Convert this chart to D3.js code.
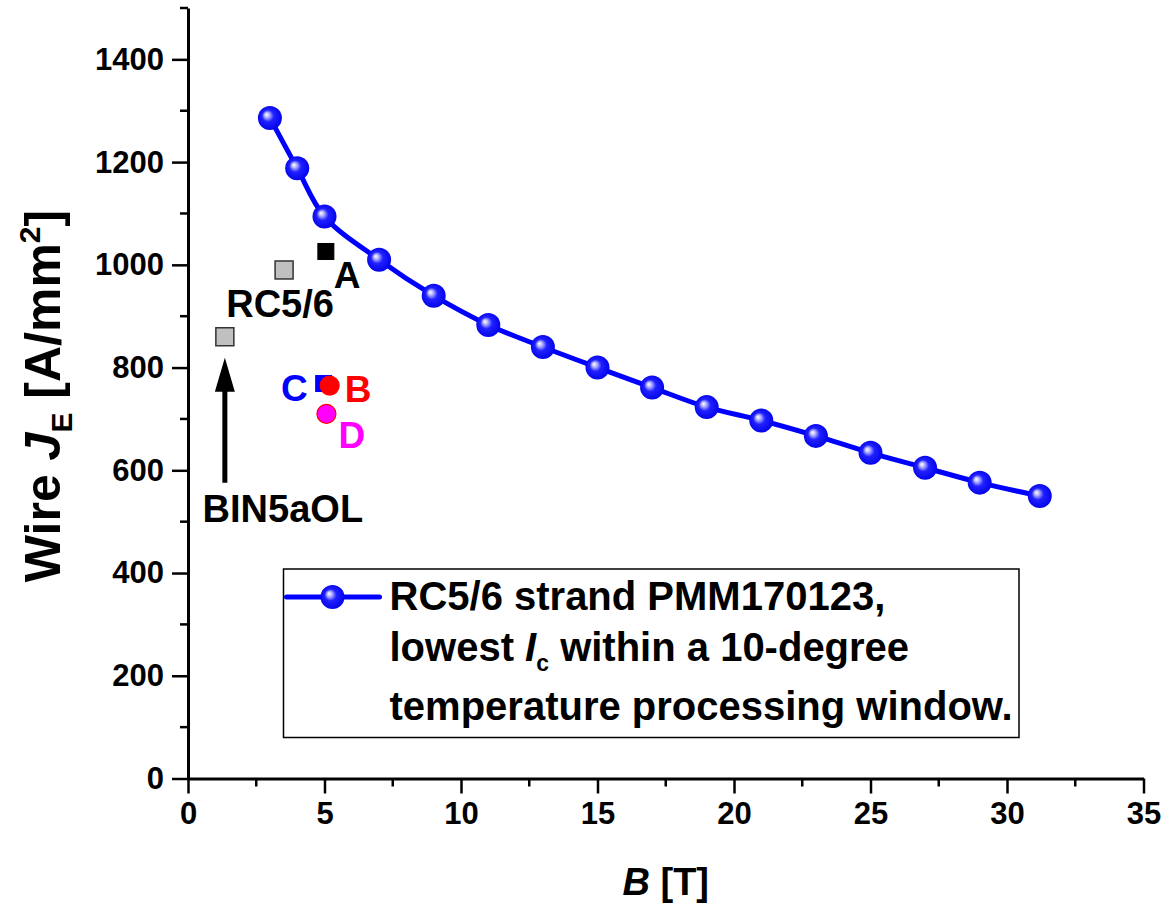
<!DOCTYPE html>
<html>
<head>
<meta charset="utf-8">
<script src="https://cdn.jsdelivr.net/npm/d3@7"></script>
<style>
  body { margin: 0; background: #fff; }
  text { font-family: "Liberation Sans", Arial, sans-serif; font-weight: bold; }
</style>
</head>
<body>
<div id="chart"></div>
<script>

// main series: RC5/6 strand PMM170123
const fieldB = [3, 4, 5, 7, 9, 11, 13, 15, 17, 19, 21, 23, 25, 27, 29, 31.2]
const wireJE = [1286, 1188, 1094, 1010, 940, 883, 840, 800, 761, 723, 697, 667, 634, 605, 576, 550]

// grey reference squares (BIN5aOL, RC5/6)
const refNames = ["BIN5aOL", "RC5/6"]
const refB = [1.35, 3.52]
const refJE = [860, 990]

// samples A-D
const sampleNames = ["A", "C", "B", "D"]
const sampleB = [5.05, 4.97, 5.19, 5.07]
const sampleJE = [1026, 769, 765, 710]

const xTicks = [0, 5, 10, 15, 20, 25, 30, 35]
const yTicks = [0, 200, 400, 600, 800, 1000, 1200, 1400]

const legendLines = ["RC5/6 strand PMM170123,", "lowest |I|c| within a 10-degree", "temperature processing window."]

// set the dimensions and margins of the graph
const margin = {top: 8, right: 22, bottom: 125, left: 188},
    width = 1166 - margin.left - margin.right,
    height = 904 - margin.top - margin.bottom;

const svg = d3.select("#chart")
  .append("svg")
    .attr("width", width + margin.left + margin.right)
    .attr("height", height + margin.top + margin.bottom)
  .append("g")
    .attr("transform", `translate(${margin.left},${margin.top})`);

const x = d3.scaleLinear().domain([0, 35]).range([0, 955.5])
const y = d3.scaleLinear().domain([0, 1500]).range([770.5, 0])

// sphere look for the markers
const defs = svg.append("defs")
const grad = defs.append("radialGradient")
  .attr("id", "ball")
  .attr("cx", "50%").attr("cy", "50%").attr("r", "55%")
  .attr("fx", "35%").attr("fy", "35%")
grad.append("stop").attr("offset", "0%").attr("stop-color", "#ffffff")
grad.append("stop").attr("offset", "18%").attr("stop-color", "#b8b8ff")
grad.append("stop").attr("offset", "45%").attr("stop-color", "#2020ff")
grad.append("stop").attr("offset", "100%").attr("stop-color", "#0000e8")

// axes
const minorX = d3.range(0, 35.1, 2.5).filter(v => v % 5 !== 0)
const minorY = d3.range(100, 1501, 200)

const gx = svg.append("g").attr("transform", `translate(0,${y(0)})`)
gx.call(d3.axisBottom(x).tickValues(xTicks).tickFormat(d3.format("d"))
  .tickSize(15).tickSizeOuter(0).tickPadding(8))
gx.append("g").selectAll("line").data(minorX).join("line")
  .attr("x1", d => x(d)).attr("x2", d => x(d)).attr("y1", 0).attr("y2", 8)
  .attr("stroke", "#000").attr("stroke-width", 2.5)

const gy = svg.append("g")
gy.call(d3.axisLeft(y).tickValues(yTicks).tickFormat(d3.format("d"))
  .tickSize(16).tickSizeOuter(0).tickPadding(8))
gy.append("g").selectAll("line").data(minorY).join("line")
  .attr("y1", d => y(d)).attr("y2", d => y(d)).attr("x1", 0).attr("x2", -8)
  .attr("stroke", "#000").attr("stroke-width", 2.5)

svg.selectAll(".domain").attr("stroke", "#000").attr("stroke-width", 3)
svg.selectAll(".tick line").attr("stroke", "#000").attr("stroke-width", 2.5)
svg.selectAll(".tick text")
  .attr("font-family", "Liberation Sans, Arial, sans-serif")
  .attr("font-weight", "bold")
  .attr("font-size", 31)
  .attr("fill", "#000")

// axis titles
const yTitle = svg.append("text")
  .attr("transform", `translate(${-128},${388}) rotate(-90)`)
  .attr("text-anchor", "middle")
  .attr("font-size", 50)
yTitle.append("tspan").text("Wire ")
yTitle.append("tspan").attr("font-style", "italic").text("J")
yTitle.append("tspan").attr("font-size", 30).attr("dy", 12).text("E")
yTitle.append("tspan").attr("dy", -12).text(" [A/mm")
yTitle.append("tspan").attr("font-size", 30).attr("dy", -20).text("2")
yTitle.append("tspan").attr("dy", 20).text("]")

const xTitle = svg.append("text")
  .attr("x", x(17.5)).attr("y", 887)
  .attr("text-anchor", "middle")
  .attr("font-size", 38)
xTitle.append("tspan").attr("font-style", "italic").text("B")
xTitle.append("tspan").text(" [T]")

// main curve
const line = d3.line()
  .x((d, i) => x(fieldB[i]))
  .y(d => y(d))
  .curve(d3.curveCatmullRom.alpha(0.5))

svg.append("path")
  .datum(wireJE)
  .attr("fill", "none")
  .attr("stroke", "#0000ff")
  .attr("stroke-width", 5)
  .attr("d", line)

svg.append("g").selectAll("circle")
  .data(wireJE)
  .join("circle")
    .attr("cx", (d, i) => x(fieldB[i]))
    .attr("cy", d => y(d))
    .attr("r", 12)
    .attr("fill", "url(#ball)")

// grey reference squares + labels
refNames.forEach((name, i) => {
  const px = x(refB[i]), py = y(refJE[i])
  svg.append("rect")
    .attr("x", px - 9).attr("y", py - 9).attr("width", 18).attr("height", 18)
    .attr("fill", "#c0c0c0").attr("stroke", "#333").attr("stroke-width", 1.5)
})

{
  // BIN5aOL arrow and label
  const px = x(refB[0]), py = y(refJE[0])
  svg.append("line")
    .attr("x1", px).attr("x2", px).attr("y1", py + 146).attr("y2", py + 50)
    .attr("stroke", "#000").attr("stroke-width", 5)
  svg.append("path")
    .attr("d", `M${px},${py + 21} L${px - 10},${py + 55} L${px + 10},${py + 55} Z`)
    .attr("fill", "#000")
  svg.append("text")
    .attr("x", px + 58).attr("y", py + 185)
    .attr("text-anchor", "middle").attr("font-size", 38)
    .text(refNames[0])

  const qx = x(refB[1]), qy = y(refJE[1])
  svg.append("text")
    .attr("x", qx - 4).attr("y", qy + 47.5)
    .attr("text-anchor", "middle").attr("font-size", 38)
    .text(refNames[1])
}

// samples A-D
const sampleStyle = {
  A: {shape: "square", fill: "#000", stroke: "#000", color: "#000", dx: 8, dy: 37, anchor: "start"},
  C: {shape: "square", fill: "#0000ff", stroke: "#0000ff", color: "#0000ff", dx: -16, dy: 18, anchor: "end"},
  B: {shape: "circle", fill: "#ff0000", stroke: "#ff0000", color: "#ff0000", dx: 15, dy: 16, anchor: "start"},
  D: {shape: "circle", fill: "#ff00ff", stroke: "#ff0000", color: "#ff00ff", dx: 12, dy: 34, anchor: "start"}
}

sampleNames.forEach((name, i) => {
  const s = sampleStyle[name]
  const px = x(sampleB[i]), py = y(sampleJE[i])
  if (s.shape === "square") {
    svg.append("rect")
      .attr("x", px - 8).attr("y", py - 8).attr("width", 16).attr("height", 16)
      .attr("fill", s.fill).attr("stroke", s.stroke).attr("stroke-width", 1)
  } else {
    svg.append("circle")
      .attr("cx", px).attr("cy", py).attr("r", 9.5)
      .attr("fill", s.fill).attr("stroke", s.stroke).attr("stroke-width", 1.2)
  }
  svg.append("text")
    .attr("x", px + s.dx).attr("y", py + s.dy)
    .attr("text-anchor", s.anchor)
    .attr("font-size", 37)
    .attr("fill", s.color)
    .text(name)
})

// legend
const lg = svg.append("g").attr("transform", `translate(${283.5 - margin.left},${569 - margin.top})`)
lg.append("rect")
  .attr("width", 735.5).attr("height", 168.5)
  .attr("fill", "#fff").attr("stroke", "#000").attr("stroke-width", 1.5)
lg.append("line")
  .attr("x1", 3).attr("x2", 96).attr("y1", 28).attr("y2", 28)
  .attr("stroke", "#0000ff").attr("stroke-width", 5).attr("stroke-linecap", "round")
lg.append("circle").attr("cx", 49).attr("cy", 28).attr("r", 12).attr("fill", "url(#ball)")

const baselines = [41, 92, 151]
legendLines.forEach((t, i) => {
  const tx = lg.append("text").attr("x", 106).attr("y", baselines[i]).attr("font-size", 40)
  const parts = t.split("|")
  if (parts.length === 1) {
    tx.text(t)
  } else {
    tx.append("tspan").text(parts[0])
    tx.append("tspan").attr("font-style", "italic").text(parts[1])
    tx.append("tspan").attr("font-size", 23).attr("dy", 10).text(parts[2])
    tx.append("tspan").attr("dy", -10).text(parts[3])
  }
})

</script>
</body>
</html>
